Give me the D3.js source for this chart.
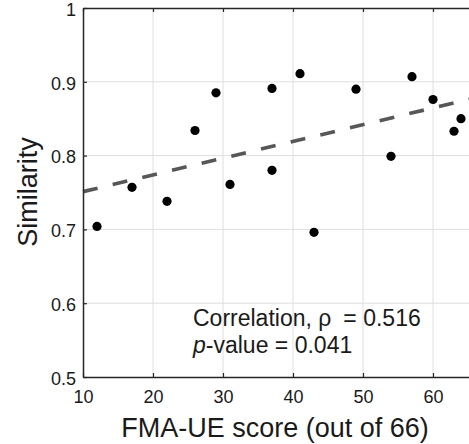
<!DOCTYPE html>
<html>
<head>
<meta charset="utf-8">
<script src="https://cdn.jsdelivr.net/npm/d3@7"></script>
<style>
  html, body { margin: 0; padding: 0; background: #fff; }
  svg { display: block; font-family: "Liberation Sans", Arial, sans-serif; }
</style>
</head>
<body>
<svg id="chart" width="469" height="444"></svg>
<script>
// ---- data ----
const fmaScores = [12, 17, 22, 26, 29, 31, 37, 37, 41, 43, 49, 54, 57, 60, 63, 64];
const similarity = [0.704, 0.757, 0.738, 0.834, 0.885, 0.761, 0.891, 0.780, 0.911, 0.696, 0.890, 0.799, 0.907, 0.876, 0.833, 0.850];
const xTicks = [10, 20, 30, 40, 50, 60];
const yTicks = [0.5, 0.6, 0.7, 0.8, 0.9, 1];
const xDomain = [10, 66];
const yDomain = [0.5, 1];
const correlationLabel = "Correlation, \u03C1";
const rhoValue = "= 0.516";
const pValueLabel = "= 0.041";
const xTitle = "FMA-UE score (out of 66)";
const yTitle = "Similarity";

(function () {
// ---- layout ----
const pLeft = 83, pTop = 8, pBottom = 377;
const pRight = pLeft + (xDomain[1] - xDomain[0]) * 7;
const svg = d3.select("#chart");
const x = d3.scaleLinear().domain(xDomain).range([pLeft, pRight]);
const y = d3.scaleLinear().domain(yDomain).range([pBottom, pTop]);
const axisColor = "#262626";

// grid
const grid = svg.append("g");
grid.selectAll("line.vx").data(xTicks.slice(1)).join("line")
  .attr("x1", d => x(d)).attr("x2", d => x(d))
  .attr("y1", pTop).attr("y2", pBottom)
  .attr("stroke", "#dedede").attr("stroke-width", 1);
grid.selectAll("line.hy").data(yTicks.slice(1, -1)).join("line")
  .attr("x1", pLeft).attr("x2", pRight)
  .attr("y1", d => y(d)).attr("y2", d => y(d))
  .attr("stroke", "#dedede").attr("stroke-width", 1);

// regression line (least squares from data)
const mx = d3.mean(fmaScores), my = d3.mean(similarity);
let sxy = 0, sxx = 0;
fmaScores.forEach((v, i) => { sxy += (v - mx) * (similarity[i] - my); sxx += (v - mx) * (v - mx); });
const slope = sxy / sxx, intercept = my - slope * mx;
const fitX = [xDomain[0], xDomain[1]];
svg.append("path")
  .datum(fitX.map(v => [v, intercept + slope * v]))
  .attr("d", d3.line().x(d => x(d[0])).y(d => y(d[1])))
  .attr("fill", "none")
  .attr("stroke", "#575757")
  .attr("stroke-width", 3.6)
  .attr("stroke-dasharray", "15,15.5");

// points
svg.append("g").selectAll("circle").data(fmaScores).join("circle")
  .attr("cx", d => x(d))
  .attr("cy", (d, i) => y(similarity[i]))
  .attr("r", 4.6)
  .attr("fill", "#000");

// axes (MATLAB style: inward ticks)
const xAxis = d3.axisBottom(x).tickValues(xTicks).tickSizeInner(-4).tickSizeOuter(0).tickPadding(13).tickFormat(d3.format("d"));
const gx = svg.append("g").attr("transform", `translate(0,${pBottom})`).call(xAxis);
gx.select(".domain").attr("stroke", axisColor).attr("stroke-width", 1.5);
gx.selectAll(".tick line").attr("stroke", axisColor).attr("stroke-width", 1.2);
gx.selectAll(".tick text").attr("fill", "#1a1a1a").attr("font-size", 18)
  .attr("font-family", "Liberation Sans, Arial, sans-serif");

const xTop = d3.axisTop(x).tickValues(xTicks).tickSizeInner(-4).tickSizeOuter(0).tickFormat("");
const gxt = svg.append("g").attr("transform", `translate(0,${pTop})`).call(xTop);
gxt.select(".domain").attr("stroke", axisColor).attr("stroke-width", 1.5);
gxt.selectAll(".tick line").attr("stroke", axisColor).attr("stroke-width", 1.2);

const yAxis = d3.axisLeft(y).tickValues(yTicks).tickSizeInner(-4).tickSizeOuter(0).tickPadding(7)
  .tickFormat(d => d === 1 ? "1" : d3.format(".1f")(d));
const gy = svg.append("g").attr("transform", `translate(${pLeft},0)`).call(yAxis);
gy.select(".domain").attr("stroke", axisColor).attr("stroke-width", 1.5);
gy.selectAll(".tick line").attr("stroke", axisColor).attr("stroke-width", 1.2);
gy.selectAll(".tick text").attr("fill", "#1a1a1a").attr("font-size", 18)
  .attr("dy", "0.4em")
  .attr("font-family", "Liberation Sans, Arial, sans-serif");

// axis titles
svg.append("text")
  .attr("x", 275).attr("y", 437)
  .attr("text-anchor", "middle")
  .attr("font-size", 27).attr("fill", "#1a1a1a")
  .text(xTitle);
svg.append("text")
  .attr("transform", "translate(37,192) rotate(-90)")
  .attr("text-anchor", "middle")
  .attr("font-size", 27).attr("fill", "#1a1a1a")
  .text(yTitle);

// annotation
const ann = svg.append("g").attr("font-size", 23).attr("fill", "#1a1a1a");
const t1 = ann.append("text").attr("x", 193).attr("y", 326);
t1.append("tspan").text(correlationLabel);
t1.append("tspan").attr("dx", 12).text(rhoValue);
const t2 = ann.append("text").attr("x", 193).attr("y", 353);
t2.append("tspan").attr("font-style", "italic").text("p");
t2.append("tspan").text("-value " + pValueLabel);
})();
</script>
</body>
</html>
